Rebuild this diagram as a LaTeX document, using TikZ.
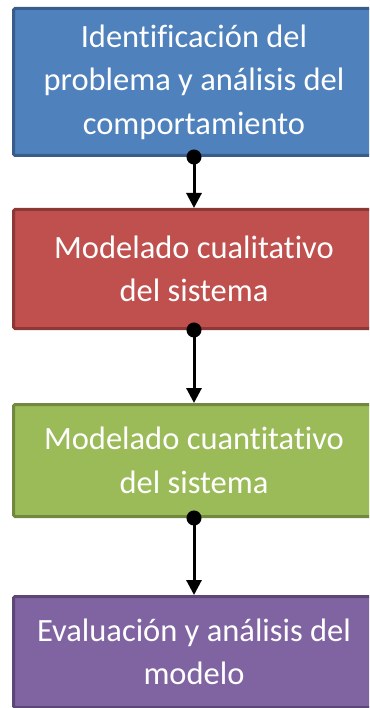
\documentclass[tikz,border=0pt]{standalone}
\usepackage{fontspec}
\setmainfont{Carlito}[Ligatures={NoCommon,NoRequired,NoContextual}]
\usetikzlibrary{arrows.meta}
\definecolor{bfill}{HTML}{4F81BD}\definecolor{bdraw}{HTML}{385D8A}
\definecolor{rfill}{HTML}{C0504D}\definecolor{rdraw}{HTML}{8C3836}
\definecolor{gfill}{HTML}{9BBB59}\definecolor{gdraw}{HTML}{71893F}
\definecolor{pfill}{HTML}{8064A2}\definecolor{pdraw}{HTML}{5C4776}
\begin{document}
\begin{tikzpicture}[x=1pt,y=-1pt,
  box/.style={draw, line width=3pt, rounded corners=1.5pt, minimum width=361pt,
    text=white, align=center, font=\fontsize{32.5}{43.5}\selectfont, inner sep=0pt},
  conn/.style={line width=3pt, shorten <=-7.5pt,
    {Circle[length=15pt]}-{Triangle[length=15pt,width=15pt]}}]
\useasboundingbox (0,0) rectangle (369,708);
\clip (0,0) rectangle (369,708);
\node[box, fill=bfill, draw=bdraw, minimum height=147pt] (b1) at (194,82)
  {\raisebox{-4pt}{\begin{tabular}{@{}c@{}}Identificación del\\problema y análisis del\\comportamiento\end{tabular}}};
\node[box, fill=rfill, draw=rdraw, minimum height=119pt] (b2) at (194,269)
  {Modelado cualitativo\\del sistema};
\node[box, fill=gfill, draw=gdraw, minimum height=112pt] (b3) at (194,460.5)
  {Modelado cuantitativo\\del sistema};
\node[box, fill=pfill, draw=pdraw, minimum height=111pt] (b4) at (194,652)
  {Evaluación y análisis del\\modelo};
\draw[conn] (b1.south) -- (b2.north);
\draw[conn] (b2.south) -- (b3.north);
\draw[conn] (b3.south) -- (b4.north);
\end{tikzpicture}
\end{document}
